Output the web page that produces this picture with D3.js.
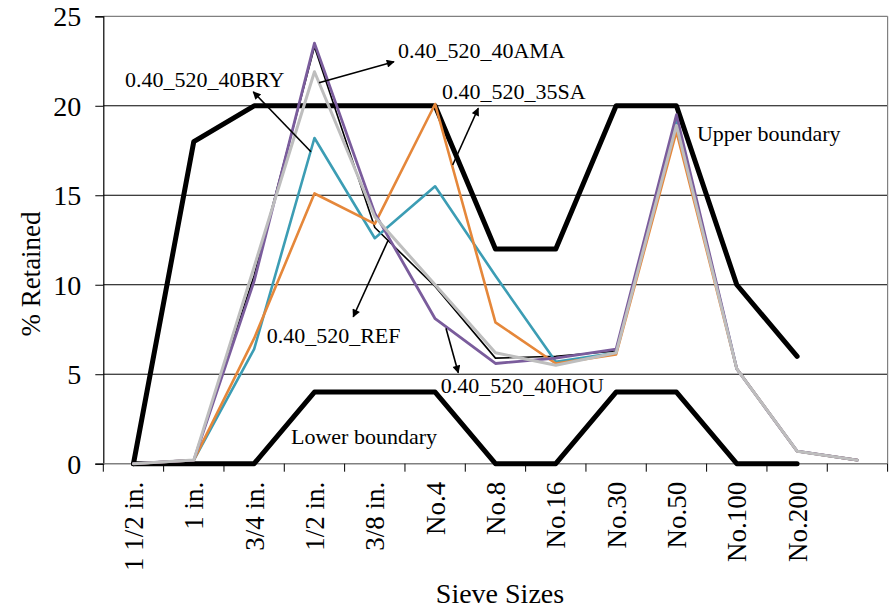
<!DOCTYPE html>
<html>
<head>
<meta charset="utf-8">
<script src="https://cdn.jsdelivr.net/npm/d3@7"></script>
<style>
  html, body { margin: 0; padding: 0; background: #fff; }
</style>
</head>
<body>
<svg id="chart" width="893" height="610"></svg>
<script>
// ---------- data ----------
const categories = ["1 1/2 in.", "1 in.", "3/4 in.", "1/2 in.", "3/8 in.", "No.4", "No.8", "No.16", "No.30", "No.50", "No.100", "No.200", ""];
const yTicks = [0, 5, 10, 15, 20, 25];

const upperBoundary = [0, 18, 20, 20, 20, 20, 12, 12, 20, 20, 10, 6, null];
const lowerBoundary = [0, 0, 0, 4, 4, 4, 0, 0, 4, 4, 0, 0, null];

const seriesREF  = [0, 0.2, 10.5, 23.3, 13.2, 9.9, 5.9, 6.0, 6.3, 19.2, 5.3, 0.7, 0.2];
const seriesBRY  = [0, 0.2, 6.4, 18.2, 12.6, 15.5, 10.5, 5.7, 6.2, 19.2, 5.3, 0.7, 0.2];
const seriesSA   = [0, 0.2, 7.0, 15.1, 13.4, 20.1, 7.9, 5.6, 6.1, 18.55, 5.3, 0.7, 0.2];
const seriesHOU  = [0, 0.2, 10.2, 23.5, 14.0, 8.1, 5.6, 5.9, 6.4, 19.5, 5.3, 0.7, 0.2];
const seriesAMA  = [0, 0.2, 11.0, 21.9, 13.8, 10.0, 6.2, 5.5, 6.2, 18.9, 5.3, 0.7, 0.2];

// label annotations in data space: category index position, value
const labelTexts = ["0.40_520_40BRY", "0.40_520_40AMA", "0.40_520_35SA", "Upper boundary", "0.40_520_REF", "0.40_520_40HOU", "Lower boundary"];
const labelIdx   = [-0.141, 4.384, 5.114, 9.340, 2.208, 7.797, 2.611];
const labelVal   = [21.05, 22.67, 20.38, 18.03, 6.76, 3.93, 1.10];
const labelAnchor = ["start", "start", "start", "start", "start", "end", "start"];

// arrows: from point on series to label (arrowhead at label end)
const arrowFromIdx = [2.942, 3.075, 5.291, 4.223, 5.180];
const arrowFromVal = [17.43, 21.29, 16.69, 12.50, 7.57];
const arrowToIdx   = [1.986, 4.318, 5.715, 3.643, 5.384];
const arrowToVal   = [20.78, 22.46, 19.86, 8.21, 5.08];

// ---------- layout ----------
const FONT = "'Liberation Serif', 'Times New Roman', 'DejaVu Serif', serif";
const svg = d3.select("#chart").attr("font-family", FONT);
const mLeft = 103.3, mTop = 16.3, mRight = 887.6, mBottom = 463.7;

const x = d3.scaleBand().domain(categories).range([mLeft, mRight]).paddingInner(0).paddingOuter(0);
const y = d3.scaleLinear().domain([0, 25]).range([mBottom, mTop]);
const xc = c => x(c) + x.bandwidth() / 2;
const xi = i => x(categories[0]) + (i + 0.5) * x.step();

// gridlines
svg.append("g").selectAll("line").data(yTicks.filter(t => t > 0 && t < 25)).join("line")
  .attr("x1", mLeft).attr("x2", mRight)
  .attr("y1", d => y(d)).attr("y2", d => y(d))
  .attr("stroke", "#000").attr("stroke-width", 1);

// plot border top & right
svg.append("line").attr("x1", mLeft).attr("x2", mRight).attr("y1", y(25)).attr("y2", y(25))
  .attr("stroke", "#808080").attr("stroke-width", 1.2);
svg.append("line").attr("x1", mRight).attr("x2", mRight).attr("y1", y(25)).attr("y2", y(0))
  .attr("stroke", "#808080").attr("stroke-width", 1.2);

// y axis
const yAxis = d3.axisLeft(y).tickValues(yTicks).tickSize(8).tickPadding(14).tickFormat(d3.format("d"));
const gy = svg.append("g").attr("transform", `translate(${mLeft},0)`).call(yAxis);
gy.attr("font-family", FONT).attr("font-size", 28);
gy.select(".domain").attr("stroke", "#000").attr("stroke-width", 1.2);
gy.selectAll(".tick line").attr("stroke", "#000");
gy.selectAll(".tick text").attr("font-size", 28).attr("font-family", FONT).attr("fill", "#000").attr("dy", "0.34em");

// x axis (ticks at band boundaries)
const gx = svg.append("g").attr("transform", `translate(0,${mBottom})`);
gx.append("line").attr("x1", mLeft).attr("x2", mRight).attr("y1", 0).attr("y2", 0)
  .attr("stroke", "#808080").attr("stroke-width", 1.5);
const boundaries = categories.map(c => x(c)).concat([mRight]);
gx.selectAll("line.tk").data(boundaries).join("line").attr("class", "tk")
  .attr("x1", d => d).attr("x2", d => d).attr("y1", 0).attr("y2", 8)
  .attr("stroke", "#000").attr("stroke-width", 1);
gx.selectAll("text").data(categories).join("text")
  .attr("transform", d => `translate(${xc(d)},18) rotate(-90)`)
  .attr("text-anchor", "end").attr("dy", "0.35em")
  .attr("font-family", FONT).attr("font-size", 27)
  .text(d => d);

// axis titles
svg.append("text").attr("transform", `translate(40,274) rotate(-90)`)
  .attr("text-anchor", "middle").attr("font-family", FONT).attr("font-size", 27).text("% Retained");
svg.append("text").attr("x", 500).attr("y", 603)
  .attr("text-anchor", "middle").attr("font-family", FONT).attr("font-size", 28).text("Sieve Sizes");

// lines
const line = d3.line()
  .defined(d => d.v !== null)
  .x(d => xc(d.c)).y(d => y(d.v));
const toPts = arr => arr.map((v, i) => ({ c: categories[i], v }));

const seriesList = [
  { data: upperBoundary, color: "#000", width: 5 },
  { data: lowerBoundary, color: "#000", width: 5 },
  { data: seriesREF, color: "#000", width: 1.6 },
  { data: seriesBRY, color: "#3C9DB4", width: 2.6 },
  { data: seriesSA, color: "#E5873A", width: 2.6 },
  { data: seriesHOU, color: "#7A5C9C", width: 2.8 },
  { data: seriesAMA, color: "#BEBEBE", width: 3 }
];
svg.append("g").selectAll("path").data(seriesList).join("path")
  .attr("d", s => line(toPts(s.data)))
  .attr("fill", "none")
  .attr("stroke", s => s.color)
  .attr("stroke-width", s => s.width)
  .attr("stroke-linejoin", "round")
  .attr("stroke-linecap", "round");

// arrow marker
svg.append("defs").append("marker")
  .attr("id", "ah").attr("viewBox", "0 0 10 10").attr("refX", 9).attr("refY", 5)
  .attr("markerWidth", 10).attr("markerHeight", 8).attr("markerUnits", "userSpaceOnUse")
  .attr("orient", "auto")
  .append("path").attr("d", "M0,0 L10,5 L0,10 Z").attr("fill", "#000");

svg.append("g").selectAll("line").data(arrowFromIdx.map((d, i) => i)).join("line")
  .attr("x1", i => xi(arrowFromIdx[i])).attr("y1", i => y(arrowFromVal[i]))
  .attr("x2", i => xi(arrowToIdx[i])).attr("y2", i => y(arrowToVal[i]))
  .attr("stroke", "#000").attr("stroke-width", 1.6)
  .attr("marker-end", "url(#ah)");

// labels
svg.append("g").selectAll("text").data(labelTexts.map((d, i) => i)).join("text")
  .attr("x", i => xi(labelIdx[i])).attr("y", i => y(labelVal[i]))
  .attr("text-anchor", i => labelAnchor[i])
  .attr("font-family", FONT)
  .attr("font-size", 22)
  .text(i => labelTexts[i]);
</script>
</body>
</html>
